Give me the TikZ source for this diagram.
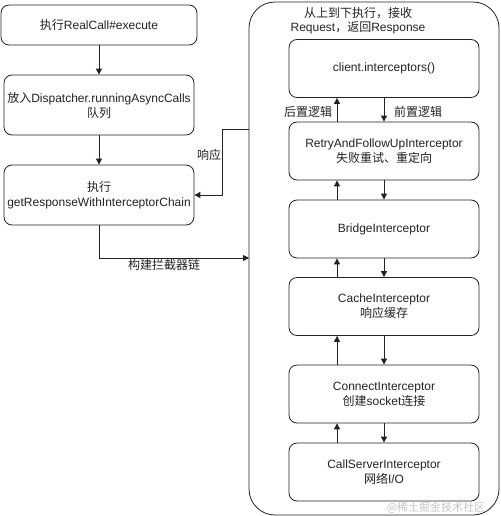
\documentclass[tikz,border=0pt]{standalone}
\usepackage{fontspec}
\setmainfont{Liberation Sans}
\newfontfamily\cjk{Noto Sans CJK SC}
\usetikzlibrary{arrows.meta}
\definecolor{ink}{HTML}{222222}

\begin{document}
\begin{tikzpicture}[x=1pt, y=-1pt,
    box/.style = {draw=ink, line width=0.8pt, rounded corners=8pt, align=center,
      text=ink, font=\fontsize{12}{15}\selectfont, inner sep=0pt},
    stepbox/.style = {box, minimum width=190pt, minimum height=58pt},
    link/.style = {draw=ink, line width=0.9pt, -{Triangle[length=6pt, width=6pt]}},
    tag/.style = {text=ink, font=\fontsize{12}{14}\selectfont, inner sep=0pt, align=center}]
  \useasboundingbox (0,0) rectangle (500,516);

  % left column
  \node [box, minimum width=196pt, minimum height=40pt] (exec) at (99,25) {{\cjk 执行}RealCall\#execute};
  \node [box, minimum width=190pt, minimum height=60pt] (queue) at (99,105) {{\cjk 放入}Dispatcher.runningAsyncCalls\\{\cjk 队列}};
  \node [box, minimum width=190pt, minimum height=60pt] (chain) at (99,195) {{\cjk 执行}\\getResponseWithInterceptorChain};
  \draw [link] (exec) -- (queue);
  \draw [link] (queue) -- (chain);

  % interceptor chain
  \node [draw=ink, line width=0.8pt, rounded corners=26pt, minimum width=250pt, minimum height=513pt, inner sep=0pt] (chainbox) at (374,258.5) {};
  \node [tag] (order) at (358,21) {{\cjk 从上到下执行，接收}\\Request{\cjk ，返回}Response};

  \node [stepbox] (client) at (384,68.5) {client.interceptors()};
  \node [stepbox] (retry) at (384,151) {RetryAndFollowUpInterceptor\\{\cjk 失败重试、重定向}};
  \node [stepbox] (bridge) at (384,229) {BridgeInterceptor};
  \node [stepbox] (cache) at (384,306.5) {CacheInterceptor\\{\cjk 响应缓存}};
  \node [stepbox] (connect) at (384,394) {ConnectInterceptor\\{\cjk 创建}socket{\cjk 连接}};
  \node [stepbox] (callserver) at (384,472) {CallServerInterceptor\\{\cjk 网络}I/O};

  \foreach \a/\b in {client/retry, retry/bridge, bridge/cache, cache/connect, connect/callserver} {
    \draw [link] (\a.south) -- (\b.north);
    \draw [link] ([xshift=-47pt]\b.north) -- ([xshift=-47pt]\a.south);
  }
  \node [tag] (after) at (308,112) {\cjk 后置逻辑};
  \node [tag] (before) at (418,112) {\cjk 前置逻辑};

  % build and response
  \coordinate (build) at (249,258);
  \draw [link] (chain.south) |- (build);
  \node [tag] (buildtag) at (164,265) {\cjk 构建拦截器链};
  \coordinate (resp) at (249,129);
  \draw [link] (resp) -- ++(-27,0) |- (chain.east);
  \node [tag] (resptag) at (209,155) {\cjk 响应};

  \node [tag, text=black!22, font=\fontsize{11}{13}\selectfont\cjk] (mark) at (436,508) {@稀土掘金技术社区};
\end{tikzpicture}
\end{document}
